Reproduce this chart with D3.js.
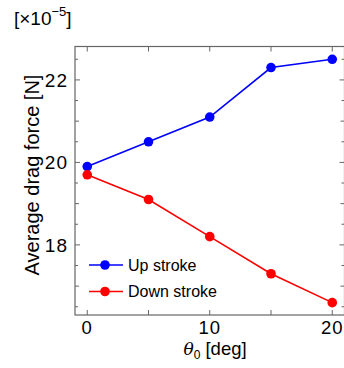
<!DOCTYPE html>
<html><head><meta charset="utf-8">
<script src="https://cdn.jsdelivr.net/npm/d3@7"></script>
<style>body{margin:0;background:#fff}svg{display:block}text{font-family:"Liberation Sans",Arial,sans-serif;fill:#000}</style>
</head><body><svg id="c" width="344" height="368"></svg>
<script>
const angles = [0, 5, 10, 15, 20];
const upStroke = [19.9, 20.5, 21.1, 22.3, 22.5];
const downStroke = [19.7, 19.1, 18.2, 17.3, 16.6];
const seriesNames = ["Up stroke", "Down stroke"];
const seriesColors = ["#0000ff", "#ff0000"];
const xTickLabels = [0, 10, 20];
const yTickLabels = [18, 20, 22];

const svg = d3.select("#c");
const L = 75, R = 344.5, T = 46.5, B = 315;
const x = d3.scaleLinear().domain([-1, 21]).range([L, R]);
const y = d3.scaleLinear().domain([16.3, 22.81]).range([B, T]);
const axisCol = "#666";

// frame
svg.append("rect").attr("x", L).attr("y", T).attr("width", R - L).attr("height", B - T)
  .attr("fill", "none").attr("stroke", axisCol).attr("stroke-width", 1.2);

// y ticks (inward, both sides)
const yMinor = d3.range(16.5, 22.76, 0.5);
yMinor.forEach(v => {
  const len = Number.isInteger(v) ? (v % 2 === 0 ? 5 : 4) : 3;
  svg.append("line").attr("x1", L).attr("x2", L + len).attr("y1", y(v)).attr("y2", y(v)).attr("stroke", axisCol);
  svg.append("line").attr("x1", R).attr("x2", R - len).attr("y1", y(v)).attr("y2", y(v)).attr("stroke", axisCol);
});
// x ticks
angles.forEach(v => {
  svg.append("line").attr("x1", x(v)).attr("x2", x(v)).attr("y1", B).attr("y2", B - 5).attr("stroke", axisCol);
  svg.append("line").attr("x1", x(v)).attr("x2", x(v)).attr("y1", T).attr("y2", T + 5).attr("stroke", axisCol);
});

// tick labels
yTickLabels.forEach(v => {
  svg.append("text").attr("x", L - 7).attr("y", y(v)).attr("dy", "0.36em")
    .attr("text-anchor", "end").attr("font-size", 19).attr("letter-spacing", 1).text(v);
});
xTickLabels.forEach(v => {
  svg.append("text").attr("x", x(v)).attr("y", 334).attr("text-anchor", "middle")
    .attr("font-size", 18.5).attr("letter-spacing", 1).text(v);
});

// axis titles
const xt = svg.append("text").attr("x", 215).attr("y", 355).attr("text-anchor", "middle").attr("font-size", 18.5);
xt.append("tspan").attr("font-style", "italic").attr("font-family", "'DejaVu Serif',serif").attr("font-size", 17).text("θ");
xt.append("tspan").attr("font-size", 12).attr("dy", 4).text("0");
xt.append("tspan").attr("dy", -4).text(" [deg]");

svg.append("text").attr("transform", `translate(39,175) rotate(-90)`).attr("text-anchor", "middle")
  .attr("font-size", 20).text("Average drag force [N]");

const mt = svg.append("text").attr("x", 14).attr("y", 25).attr("font-size", 19);
mt.append("tspan").text("[×10");
mt.append("tspan").attr("font-size", 13).attr("dy", -9).text("−5");
mt.append("tspan").attr("dy", 9).text("]");

// series
const data = [upStroke, downStroke];
const line = d3.line().x((d, i) => x(angles[i])).y(d => y(d));
data.forEach((s, k) => {
  svg.append("path").attr("d", line(s)).attr("fill", "none").attr("stroke", seriesColors[k]).attr("stroke-width", 1.6);
  svg.selectAll(null).data(s).enter().append("circle")
    .attr("cx", (d, i) => x(angles[i])).attr("cy", d => y(d)).attr("r", 4.8).attr("fill", seriesColors[k]);
});

// legend
seriesNames.forEach((n, k) => {
  const ly = 265 + k * 26.5;
  svg.append("line").attr("x1", 89).attr("x2", 123).attr("y1", ly).attr("y2", ly)
    .attr("stroke", seriesColors[k]).attr("stroke-width", 1.6);
  svg.append("circle").attr("cx", 105).attr("cy", ly).attr("r", 4.8).attr("fill", seriesColors[k]);
  svg.append("text").attr("x", 128).attr("y", ly).attr("dy", "0.36em").attr("font-size", 16).text(n);
});
</script></body></html>
